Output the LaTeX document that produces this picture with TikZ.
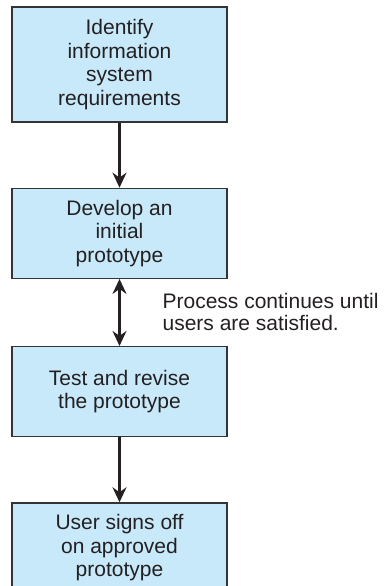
\documentclass[tikz,border=0pt]{standalone}
\usepackage{fontspec}
\setmainfont{Liberation Sans}
\usepackage{tikz}
\usetikzlibrary{
  arrows.meta,
  positioning
}
\definecolor{StepBlue}{RGB}{199,233,249}
\definecolor{EdgeGray}{RGB}{52,52,54}
\definecolor{ArrowDark}{RGB}{36,32,33}
\tikzset{
  stepbox/.style={draw=EdgeGray,fill=StepBlue,line width=1.3pt,minimum width=215pt,minimum height=90pt,inner sep=0pt,align=center,font=\fontsize{21}{23.5}\selectfont,text=ArrowDark},
  flow/.style={-{Stealth[length=15pt,width=14pt,inset=5pt]},line width=2.2pt,draw=ArrowDark},
  loopflow/.style={{Stealth[length=15pt,width=14pt,inset=5pt]}-{Stealth[length=15pt,width=14pt,inset=5pt]},line width=2.2pt,draw=ArrowDark},
  note/.style={align=left,inner sep=0pt,font=\fontsize{21}{22}\selectfont,text=ArrowDark}
}

\begin{document}
\begin{tikzpicture}[x=1pt,y=1pt,node distance=65pt]
\useasboundingbox (0,0) rectangle (383,-586);
\node[stepbox,minimum height=115pt] (req) at (119.5,-64.5) {Identify\\information\\system\\requirements};
\node[stepbox, below=of req] (dev) {Develop an\\initial\\prototype};
\node[stepbox, below=67pt of dev] (test) {Test and revise\\the prototype};
\node[stepbox, below=of test] (signoff) {User signs off\\on approved\\prototype};

\draw[flow] (req) -- (dev);
\draw[loopflow] (dev) -- node[note,right=42pt]{Process continues until\\users are satisfied.} (test);
\draw[flow] (test) -- (signoff);
\end{tikzpicture}
\end{document}
